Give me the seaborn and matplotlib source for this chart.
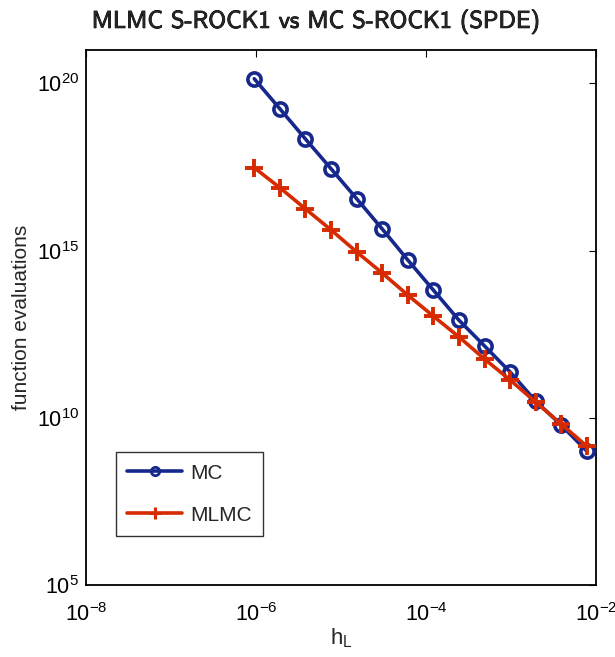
import numpy as np
import pandas as pd
import matplotlib
matplotlib.use("Agg")
import matplotlib.pyplot as plt
import matplotlib.patheffects as pe
from matplotlib.lines import Line2D
import seaborn as sns

# Finest-level step sizes h_L (powers of two, 2^-20 ... 2^-7)
h_levels = [9.54e-7, 1.91e-6, 3.81e-6, 7.63e-6, 1.53e-5, 3.05e-5, 6.10e-5,
            1.22e-4, 2.44e-4, 4.88e-4, 9.77e-4, 1.95e-3, 3.91e-3, 7.81e-3]

# Total function evaluations for each method
mc_evals = [1.38e20, 1.74e19, 2.19e18, 2.82e17, 3.55e16, 4.47e15, 5.25e14,
            6.61e13, 8.32e12, 1.41e12, 2.34e11, 3.16e10, 6.03e9, 1.00e9]
mlmc_evals = [3.02e17, 7.59e16, 1.78e16, 4.17e15, 9.12e14, 2.14e14, 4.68e13,
              1.10e13, 2.63e12, 5.75e11, 1.35e11, 2.95e10, 6.46e9, 1.41e9]

x_ticks = [1e-8, 1e-6, 1e-4, 1e-2]
y_ticks = [1e5, 1e10, 1e15, 1e20]

mc_df = pd.DataFrame({"h": h_levels, "evals": mc_evals})
mlmc_df = pd.DataFrame({"h": h_levels, "evals": mlmc_evals})

sns.set_theme(style="white")
plt.rcParams["font.family"] = ["Liberation Sans", "DejaVu Sans"]
plt.rcParams["mathtext.fontset"] = "custom"
plt.rcParams["mathtext.rm"] = "Liberation Sans"
plt.rcParams["mathtext.it"] = "Liberation Sans:italic"
plt.rcParams["mathtext.sf"] = "Liberation Sans"

fig = plt.figure(figsize=(6.15, 6.57), dpi=100)
ax = fig.add_axes([86 / 615, 1 - 585 / 657, 510 / 615, 535 / 657])

mc_color = "#16288c"
mlmc_color = "#d62a00"

sns.lineplot(data=mc_df, x="h", y="evals", color=mc_color, linewidth=2.6,
             marker="o", markersize=9.5, markerfacecolor="none",
             markeredgecolor=mc_color, markeredgewidth=2.6, ax=ax, zorder=3)
sns.lineplot(data=mlmc_df, x="h", y="evals", color=mlmc_color, linewidth=2.6,
             marker="+", markersize=13, markeredgecolor=mlmc_color,
             markeredgewidth=2.8, ax=ax, zorder=4)
for line in ax.get_lines():
    line.set_linestyle("-")

ax.set_xscale("log")
ax.set_yscale("log")
ax.set_xlim(1e-8, 1e-2)
ax.set_ylim(1e5, 1e21)
ax.set_xticks(x_ticks)
ax.set_yticks(y_ticks)
ax.minorticks_off()
ax.tick_params(axis="both", which="major", direction="in", length=5, width=0.8,
               top=True, right=True, labelsize=15.5, colors="black", pad=5)
ax.tick_params(axis="x", pad=13)
for s in ax.spines.values():
    s.set_color("black")
    s.set_linewidth(1.3)

ax.set_xlabel("h$_{\\mathrm{L}}$", fontsize=16, labelpad=0)
ax.set_ylabel("function evaluations", fontsize=15, labelpad=4)

title = fig.suptitle("MLMC S-ROCK1 vs MC S-ROCK1 (SPDE)", x=0.513, y=0.985,
                     fontsize=17.5, fontfamily=["cmss10", "DejaVu Sans"])
title.set_path_effects([pe.withStroke(linewidth=0.6, foreground="black")])

handles = [
    Line2D([], [], color=mc_color, lw=2.6, marker="o", mfc="none", mew=2, ms=6),
    Line2D([], [], color=mlmc_color, lw=2.6, marker="+", mew=2.2, ms=9),
]
leg = ax.legend(handles, ["MC", "MLMC"], loc="lower left",
                bbox_to_anchor=(30 / 510, 49 / 535), fontsize=15,
                frameon=True, fancybox=False, edgecolor="black",
                handlelength=2.6, borderpad=0.55, labelspacing=1.1,
                handletextpad=0.4, borderaxespad=0)
leg.get_frame().set_linewidth(1.0)

fig.savefig("out.png", dpi=100)
